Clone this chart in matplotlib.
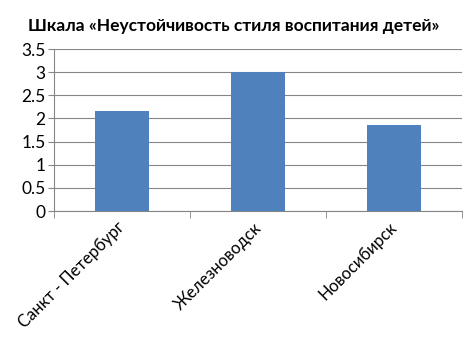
import matplotlib
matplotlib.use('Agg')
import matplotlib.pyplot as plt
import matplotlib.transforms as mtransforms
import numpy as np

cities = ['Санкт - Петербург', 'Железноводск', 'Новосибирск']
scores = [2.15, 3.0, 1.85]
title = 'Шкала «Неустойчивость стиля воспитания детей»'

plt.rcParams['font.family'] = ['Lato', 'DejaVu Sans']

fig = plt.figure(figsize=(4.71, 3.51), dpi=100)
ax = fig.add_axes([54/471, 1-211/351, (462-54)/471, (211-49)/351])

x = np.arange(len(cities))
ax.bar(x, scores, width=0.4, color='#4f81bd', zorder=3)
ax.set_xlim(-0.5, len(cities) - 0.5)
ax.set_ylim(0, 3.5)
ax.set_yticks(np.arange(0, 3.51, 0.5))
ax.set_yticklabels(['0', '0.5', '1', '1.5', '2', '2.5', '3', '3.5'], fontsize=12.5)
ax.yaxis.grid(True, color='#868686', linewidth=0.8, zorder=0)

ax.set_xticks(x)
ax.set_xticklabels(cities, rotation=45, ha='right', rotation_mode='anchor', fontsize=12)
ax.tick_params(axis='x', length=0, pad=6)
ax.set_xticks(np.arange(-0.5, len(cities)), minor=True)
ax.tick_params(axis='x', which='minor', length=5, color='#868686')
ax.tick_params(axis='y', length=4, color='#868686', pad=2)

# nudge rotated labels a bit to the left
shift = mtransforms.ScaledTranslation(-5/100, 0, fig.dpi_scale_trans)
for lbl in ax.get_xticklabels():
    lbl.set_transform(lbl.get_transform() + shift)

for s in ['top', 'right']:
    ax.spines[s].set_visible(False)
for s in ['left', 'bottom']:
    ax.spines[s].set_color('#868686')

fig.text(0.497, 1-26/351, title, ha='center', va='center', fontsize=12.5, fontweight='bold')

fig.savefig('out.png', dpi=100)
